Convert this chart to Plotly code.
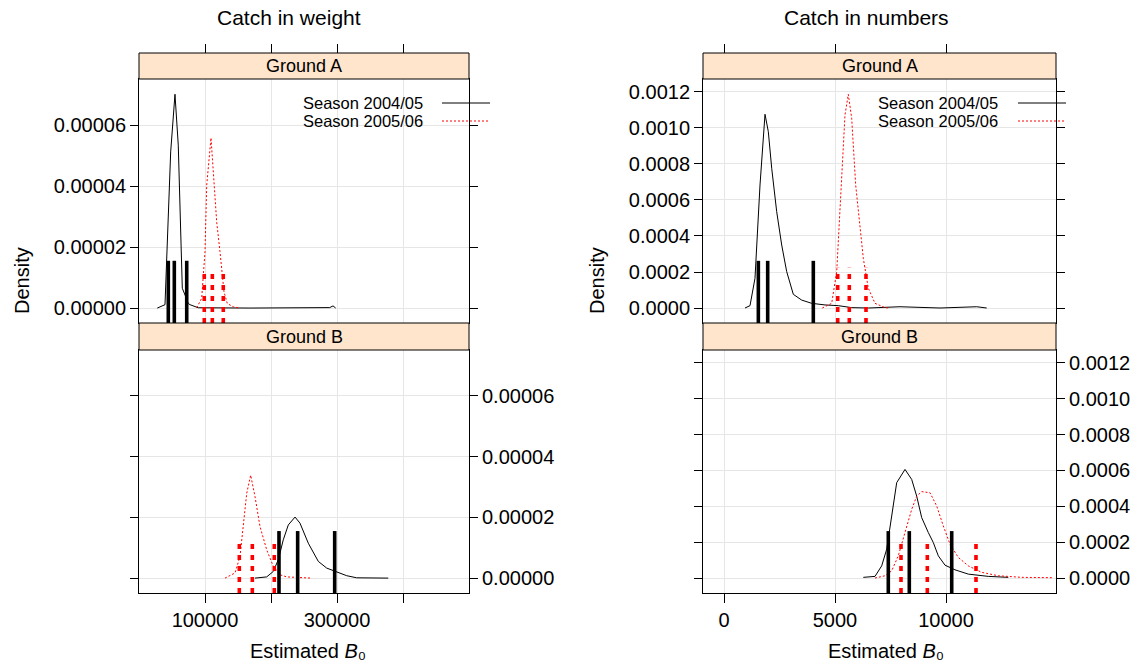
import plotly.graph_objects as go

W, H = 1143, 669
FONT = "Liberation Sans, Arial, Helvetica, sans-serif"

# ---------------- data ----------------
# Catch in weight, Ground A
wA_0405_x = [27700, 39400, 48000, 54500, 59500, 64700, 65600, 69700, 74700, 77300, 89800, 168000, 244000, 289000, 294000, 298000]
wA_0405_y = [0, 1.1e-6, 5.12e-5, 7.01e-5, 5.34e-5, 1.85e-5, 6.5e-6, 4.3e-6, 1.5e-6, 1.1e-6, 1e-7, 0, 0, 1.5e-7, 7e-7, 0]
wA_0506_x = [87400, 95000, 100000, 102600, 109100, 115200, 117700, 122700, 128800, 133800, 142900, 153000]
wA_0506_y = [1e-7, 3.2e-6, 1.85e-5, 4.03e-5, 5.58e-5, 3.81e-5, 2.83e-5, 1.85e-5, 5.3e-6, 1.5e-6, 4e-7, 0]
# Catch in weight, Ground B
wB_0405_x = [175800, 193500, 203500, 211100, 218600, 226200, 236400, 243900, 256500, 271700, 284400, 297000, 314700, 329800, 377700]
wB_0405_y = [0, 4e-7, 2.2e-6, 6.1e-6, 1.26e-5, 1.75e-5, 2.01e-5, 1.81e-5, 1.15e-5, 5.5e-6, 3.3e-6, 2.2e-6, 8e-7, 1e-7, 0]
wB_0506_x = [130300, 145500, 153000, 158000, 163200, 169200, 175800, 183300, 193500, 203500, 213600, 223800, 261700]
wB_0506_y = [0, 1.7e-6, 7.1e-6, 1.7e-5, 2.79e-5, 3.39e-5, 2.68e-5, 1.7e-5, 9.3e-6, 3.9e-6, 1.1e-6, 4e-7, 0]
# quantile markers (catch in weight)
wA_q0405 = [44400, 53500, 72300]
wA_q0506 = [98900, 111100, 127700]
wB_q0405 = [212100, 240400, 296500]
wB_q0506 = [152000, 171700, 205000]
w_qh = [1.55e-5, 1.31e-5]  # marker heights: 2004/05, 2005/06

# Catch in numbers, Ground A
nA_0405_x = [946, 1171, 1396, 1622, 1847, 1996, 2149, 2374, 2599, 2824, 3122, 3500, 3950, 4550, 5149, 5752, 6500, 7928, 9730, 11383, 11833]
nA_0405_y = [0, 1.3e-5, 1.65e-4, 6.83e-4, 1.076e-3, 9.8e-4, 7.76e-4, 5.35e-4, 3.5e-4, 2.02e-4, 7.6e-5, 4.4e-5, 2.6e-5, 1.7e-5, 1.3e-5, 2e-6, 0, 7e-6, 0, 7e-6, 0]
nA_0506_x = [4428, 4851, 5077, 5180, 5302, 5450, 5599, 5752, 5932, 6126, 6275, 6500, 6802, 7252, 7401]
nA_0506_y = [0, 2.6e-5, 2.02e-4, 4.43e-4, 7.76e-4, 1.072e-3, 1.187e-3, 1.054e-3, 6.83e-4, 4.43e-4, 2.76e-4, 1.1e-4, 2.6e-5, 2e-6, 0]
# Catch in numbers, Ground B
nB_0405_x = [6275, 6802, 7104, 7329, 7554, 7779, 8153, 8455, 8680, 8905, 9203, 9428, 9653, 9955, 10405, 11005, 11905, 12806]
nB_0405_y = [4e-6, 9.4e-6, 6.83e-5, 1.61e-4, 3.46e-4, 5.32e-4, 6.06e-4, 5.5e-4, 4.57e-4, 3.37e-4, 2.54e-4, 1.98e-4, 1.24e-4, 7.2e-5, 4.6e-5, 2.2e-5, 9.4e-6, 4e-6]
nB_0506_x = [6802, 7252, 7554, 7851, 8153, 8455, 8680, 8905, 9279, 9581, 9878, 10180, 10554, 11005, 11608, 12356, 13410, 14775]
nB_0506_y = [0, 1.28e-5, 4.06e-5, 1.24e-4, 2.54e-4, 3.83e-4, 4.57e-4, 4.82e-4, 4.76e-4, 4.02e-4, 2.91e-4, 1.89e-4, 1.15e-4, 6.8e-5, 3.2e-5, 1.28e-5, 4e-6, 2e-6]
nA_q0405 = [1547, 1968, 4023]
nA_q0506 = [5122, 5644, 6396]
nB_q0405 = [7401, 8347, 10257]
nB_q0506 = [7973, 9158, 11351]
n_qh = [2.62e-4, 2.23e-4]

# axis settings
w_xrange = [0, 500000]
w_xticks = [100000, 200000, 300000, 400000]   # tick marks
w_xlabels = [100000, 300000]                  # labelled ticks
w_yrange = [-4.9e-6, 7.51e-5]
w_yticks = [0, 2e-5, 4e-5, 6e-5]
n_xrange = [-946, 14955]
n_xticks = [0, 5000, 10000]
n_yrange = [-8.33e-5, 1.272e-3]
n_yticks = [0, 2e-4, 4e-4, 6e-4, 8e-4, 1e-3, 1.2e-3]

panels = ["Ground A", "Ground B"]
seasons = ["Season 2004/05", "Season 2005/06"]
titles = ["Catch in weight", "Catch in numbers"]
xlab = "Estimated <i>B</i>\u2080"
ylab = "Density"

# ---------------- layout geometry (pixels) ----------------
def px(x):
    return x / W

def py(y):
    return 1 - y / H

LX = [139, 469]
RX = [703, 1056]
A_Y = [79, 323]
B_Y = [350, 593]
A_STRIP = [53, 79]
B_STRIP = [323, 350]

RED = "#FF0000"
GRID = "#E6E6E6"
THIN_DOT = "2px,2px"
THICK_DOT = "5px,6px"

fig = go.Figure()


def seg_trace(xs, h, y0, color, dash, xa, ya):
    X, Y = [], []
    for v in xs:
        X += [v, v, None]
        Y += [y0, h, None]
    return go.Scatter(x=X, y=Y, mode="lines", xaxis=xa, yaxis=ya, showlegend=False,
                      hoverinfo="skip", line=dict(color=color, width=3.6, dash=dash))


def curve(x, y, color, dash, xa, ya):
    return go.Scatter(x=x, y=y, mode="lines", xaxis=xa, yaxis=ya, showlegend=False,
                      line=dict(color=color, width=1, dash=dash))

# weight A (x, y)
fig.add_trace(curve(wA_0405_x, wA_0405_y, "black", "solid", "x", "y"))
fig.add_trace(curve(wA_0506_x, wA_0506_y, RED, THIN_DOT, "x", "y"))
fig.add_trace(seg_trace(wA_q0405, w_qh[0], w_yrange[0], "black", "solid", "x", "y"))
fig.add_trace(seg_trace(wA_q0506, w_qh[1], w_yrange[0], RED, THICK_DOT, "x", "y"))
# weight B (x2, y2)
fig.add_trace(curve(wB_0405_x, wB_0405_y, "black", "solid", "x2", "y2"))
fig.add_trace(curve(wB_0506_x, wB_0506_y, RED, THIN_DOT, "x2", "y2"))
fig.add_trace(seg_trace(wB_q0405, w_qh[0], w_yrange[0], "black", "solid", "x2", "y2"))
fig.add_trace(seg_trace(wB_q0506, w_qh[1], w_yrange[0], RED, THICK_DOT, "x2", "y2"))
# numbers A (x3, y3)
fig.add_trace(curve(nA_0405_x, nA_0405_y, "black", "solid", "x3", "y3"))
fig.add_trace(curve(nA_0506_x, nA_0506_y, RED, THIN_DOT, "x3", "y3"))
fig.add_trace(seg_trace(nA_q0405, n_qh[0], n_yrange[0], "black", "solid", "x3", "y3"))
fig.add_trace(seg_trace(nA_q0506, n_qh[1], n_yrange[0], RED, THICK_DOT, "x3", "y3"))
# numbers B (x4, y4)
fig.add_trace(curve(nB_0405_x, nB_0405_y, "black", "solid", "x4", "y4"))
fig.add_trace(curve(nB_0506_x, nB_0506_y, RED, THIN_DOT, "x4", "y4"))
fig.add_trace(seg_trace(nB_q0405, n_qh[0], n_yrange[0], "black", "solid", "x4", "y4"))
fig.add_trace(seg_trace(nB_q0506, n_qh[1], n_yrange[0], RED, THICK_DOT, "x4", "y4"))
# invisible traces so the extra (overlaying) axes render
for xa, ya, xv in (("x5", "y", w_xticks[0]), ("x6", "y3", n_xticks[0]), ("x7", "y2", w_xticks[0])):
    fig.add_trace(go.Scatter(x=[xv], y=[0], xaxis=xa, yaxis=ya, mode="markers",
                             marker=dict(opacity=0), showlegend=False, hoverinfo="skip"))

tickfont = dict(family=FONT, size=20, color="black")
common = dict(showline=True, linecolor="black", linewidth=1, zeroline=False,
              gridcolor=GRID, gridwidth=1, tickcolor="black", tickfont=tickfont,
              fixedrange=True)

dom_L = [px(LX[0]), px(LX[1])]
dom_R = [px(RX[0]), px(RX[1])]
dom_A = [py(A_Y[1]), py(A_Y[0])]
dom_B = [py(B_Y[1]), py(B_Y[0])]

fig.update_layout(
    xaxis=dict(domain=dom_L, anchor="y", range=w_xrange, tickvals=w_xticks, showticklabels=False,
               ticks="", mirror=True, **common),
    yaxis=dict(domain=dom_A, anchor="x", range=w_yrange, tickvals=w_yticks, tickformat=".5f",
               ticks="outside", ticklen=8, mirror="ticks", side="left", **common),
    xaxis2=dict(domain=dom_L, anchor="y2", range=w_xrange, tickvals=w_xticks, showticklabels=False,
                ticks="outside", ticklen=9, mirror=True, side="bottom", **common),
    yaxis2=dict(domain=dom_B, anchor="x2", range=w_yrange, tickvals=w_yticks, tickformat=".5f",
                ticks="outside", ticklen=8, mirror="ticks", side="right", **common),
    xaxis3=dict(domain=dom_R, anchor="y3", range=n_xrange, tickvals=n_xticks, showticklabels=False,
                ticks="", mirror=True, **common),
    yaxis3=dict(domain=dom_A, anchor="x3", range=n_yrange, tickvals=n_yticks, tickformat=".4f",
                ticks="outside", ticklen=8, mirror="ticks", side="left", **common),
    xaxis4=dict(domain=dom_R, anchor="y4", range=n_xrange, tickvals=n_xticks, tickformat="d",
                ticks="outside", ticklen=9, mirror=True, side="bottom", **common),
    yaxis4=dict(domain=dom_B, anchor="x4", range=n_yrange, tickvals=n_yticks, tickformat=".4f",
                ticks="outside", ticklen=8, mirror="ticks", side="right", **common),
    xaxis5=dict(overlaying="x", anchor="free", position=py(A_STRIP[0]), side="top",
                range=w_xrange, tickvals=w_xticks, showticklabels=False, ticks="outside",
                ticklen=9, tickcolor="black", showgrid=False, showline=False, zeroline=False),
    xaxis6=dict(overlaying="x3", anchor="free", position=py(A_STRIP[0]), side="top",
                range=n_xrange, tickvals=n_xticks, showticklabels=False, ticks="outside",
                ticklen=9, tickcolor="black", showgrid=False, showline=False, zeroline=False),
    # labels only at alternate ticks (lattice style) for the weight panel
    xaxis7=dict(overlaying="x2", anchor="y2", side="bottom", range=w_xrange, tickvals=w_xlabels,
                tickformat="d", ticks="outside", ticklen=9, tickcolor="rgba(0,0,0,0)",
                showgrid=False, showline=False, zeroline=False, tickfont=tickfont),
)

shapes = []
annotations = []
STRIP_FILL = "#FFE5CC"
for xr in (LX, RX):
    for sy, name in ((A_STRIP, panels[0]), (B_STRIP, panels[1])):
        shapes.append(dict(type="rect", xref="paper", yref="paper", x0=px(xr[0]), x1=px(xr[1]),
                           y0=py(sy[1]), y1=py(sy[0]), fillcolor=STRIP_FILL,
                           line=dict(color="black", width=1), layer="above"))
        annotations.append(dict(xref="paper", yref="paper", x=px((xr[0] + xr[1]) / 2),
                                y=py((sy[0] + sy[1]) / 2), text=name, showarrow=False,
                                font=dict(family=FONT, size=18, color="black"),
                                xanchor="center", yanchor="middle"))

# legends (key) inside Ground A panels
for text_right, line_x in ((425, (442, 490)), (1000, (1018, 1066))):
    for i, (ly, col, dash) in enumerate(((103, "black", "solid"), (121, RED, THIN_DOT))):
        annotations.append(dict(xref="paper", yref="paper", x=px(text_right), y=py(ly),
                                text=seasons[i], showarrow=False, xanchor="right", yanchor="middle",
                                font=dict(family=FONT, size=16.5, color="black")))
        shapes.append(dict(type="line", xref="paper", yref="paper", x0=px(line_x[0]), x1=px(line_x[1]),
                           y0=py(ly), y1=py(ly), line=dict(color=col, width=1, dash=dash)))

# titles and axis labels
for cx, t in ((289, titles[0]), (866, titles[1])):
    annotations.append(dict(xref="paper", yref="paper", x=px(cx), y=py(18), text=t, showarrow=False,
                            xanchor="center", yanchor="middle",
                            font=dict(family=FONT, size=21, color="black")))
for cx in (22, 597):
    annotations.append(dict(xref="paper", yref="paper", x=px(cx), y=py(281), text=ylab,
                            showarrow=False, textangle=-90, xanchor="center", yanchor="middle",
                            font=dict(family=FONT, size=20, color="black")))
for cx in (308, 886):
    annotations.append(dict(xref="paper", yref="paper", x=px(cx), y=py(651), text=xlab,
                            showarrow=False, xanchor="center", yanchor="middle",
                            font=dict(family=FONT, size=20, color="black")))

fig.update_layout(shapes=shapes, annotations=annotations, width=W, height=H, autosize=False,
                  margin=dict(l=0, r=0, t=0, b=0), paper_bgcolor="white", plot_bgcolor="white",
                  showlegend=False, font=dict(family=FONT, color="black"))

fig.write_html("out.html")
